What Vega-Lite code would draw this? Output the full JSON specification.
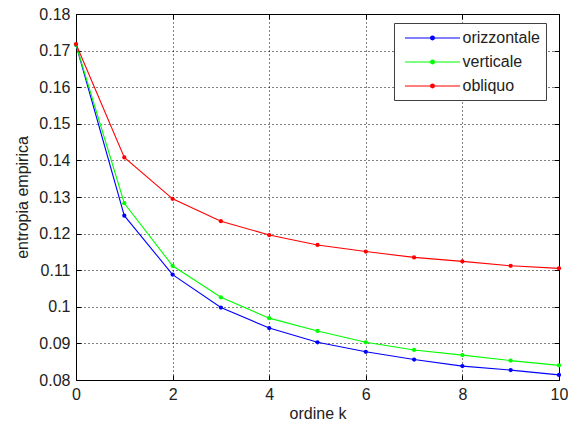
{
  "$schema": "https://vega.github.io/schema/vega-lite/v6.json",
  "width": 483,
  "height": 366,
  "autosize": {"type": "none"},
  "padding": {"left": 76, "top": 14, "right": 9, "bottom": 47},
  "background": "white",
  "data": {
    "values": [
      {"k": 0, "serie": "orizzontale", "h": 0.1716},
      {"k": 1, "serie": "orizzontale", "h": 0.1249},
      {"k": 2, "serie": "orizzontale", "h": 0.1088},
      {"k": 3, "serie": "orizzontale", "h": 0.0998},
      {"k": 4, "serie": "orizzontale", "h": 0.0942},
      {"k": 5, "serie": "orizzontale", "h": 0.0903},
      {"k": 6, "serie": "orizzontale", "h": 0.0877},
      {"k": 7, "serie": "orizzontale", "h": 0.0856},
      {"k": 8, "serie": "orizzontale", "h": 0.0838},
      {"k": 9, "serie": "orizzontale", "h": 0.0827},
      {"k": 10, "serie": "orizzontale", "h": 0.0814},
      {"k": 0, "serie": "verticale", "h": 0.1716},
      {"k": 1, "serie": "verticale", "h": 0.1283},
      {"k": 2, "serie": "verticale", "h": 0.1112},
      {"k": 3, "serie": "verticale", "h": 0.1026},
      {"k": 4, "serie": "verticale", "h": 0.0969},
      {"k": 5, "serie": "verticale", "h": 0.0934},
      {"k": 6, "serie": "verticale", "h": 0.0903},
      {"k": 7, "serie": "verticale", "h": 0.0882},
      {"k": 8, "serie": "verticale", "h": 0.0868},
      {"k": 9, "serie": "verticale", "h": 0.0853},
      {"k": 10, "serie": "verticale", "h": 0.0840},
      {"k": 0, "serie": "obliquo", "h": 0.1718},
      {"k": 1, "serie": "obliquo", "h": 0.1408},
      {"k": 2, "serie": "obliquo", "h": 0.1295},
      {"k": 3, "serie": "obliquo", "h": 0.1234},
      {"k": 4, "serie": "obliquo", "h": 0.1196},
      {"k": 5, "serie": "obliquo", "h": 0.1169},
      {"k": 6, "serie": "obliquo", "h": 0.1151},
      {"k": 7, "serie": "obliquo", "h": 0.1135},
      {"k": 8, "serie": "obliquo", "h": 0.1124},
      {"k": 9, "serie": "obliquo", "h": 0.1112},
      {"k": 10, "serie": "obliquo", "h": 0.1105}
    ]
  },
  "layer": [
    {
      "mark": {"type": "line", "strokeWidth": 1.1, "point": {"filled": true, "size": 18}},
      "encoding": {
        "x": {
          "field": "k", "type": "quantitative",
          "scale": {"domain": [0, 10], "nice": false, "zero": false},
          "axis": {"orient": "bottom", "values": [0, 2, 4, 6, 8, 10], "title": "ordine k", "grid": true, "labelPadding": 11, "titlePadding": 3, "labelFlush": false}
        },
        "y": {
          "field": "h", "type": "quantitative",
          "scale": {"domain": [0.08, 0.18], "nice": false, "zero": false},
          "axis": {"orient": "left", "values": [0.08, 0.09, 0.1, 0.11, 0.12, 0.13, 0.14, 0.15, 0.16, 0.17, 0.18], "format": ".2~f", "title": "entropia empirica", "grid": true, "labelPadding": 11, "titlePadding": 8}
        },
        "color": {
          "field": "serie", "type": "nominal",
          "scale": {"domain": ["orizzontale", "verticale", "obliquo"], "range": ["#0000ff", "#00ff00", "#ff0000"]},
          "legend": {
            "title": null,
            "orient": "none",
            "legendX": 318,
            "legendY": 9,
            "padding": 6,
            "rowPadding": 7,
            "strokeColor": "#404040",
            "fillColor": "white",
            "symbolType": "M-3.44,0L3.44,0M0.24,0A0.24,0.24,0,1,1,-0.24,0A0.24,0.24,0,1,1,0.24,0Z",
            "symbolSize": 256,
            "symbolStrokeWidth": 1.1,
            "symbolOffset": 23.5,
            "labelOffset": 21,
            "labelFont": "Liberation Sans",
            "labelFontSize": 16,
            "labelColor": "#222",
            "encode": {
              "symbols": {"update": {"fill": {"scale": "color", "field": "value"}, "stroke": {"scale": "color", "field": "value"}, "opacity": {"value": 1}}}
            }
          }
        }
      }
    },
    {
      "mark": {"type": "point", "opacity": 0},
      "encoding": {
        "x": {
          "field": "k", "type": "quantitative",
          "axis": {"orient": "top", "values": [0, 2, 4, 6, 8, 10], "labels": false, "title": null, "grid": false}
        },
        "y": {
          "field": "h", "type": "quantitative",
          "axis": {"orient": "right", "values": [0.08, 0.09, 0.1, 0.11, 0.12, 0.13, 0.14, 0.15, 0.16, 0.17, 0.18], "labels": false, "title": null, "grid": false}
        }
      }
    }
  ],
  "config": {
    "view": {"stroke": "black", "strokeWidth": 1},
    "axis": {
      "domainColor": "black",
      "domainWidth": 1,
      "tickColor": "black",
      "tickWidth": 1,
      "tickSize": -5,
      "gridColor": "black",
      "gridDash": [1, 3],
      "gridOpacity": 1,
      "gridWidth": 1,
      "labelFont": "Liberation Sans",
      "labelFontSize": 16,
      "labelColor": "#222",
      "titleFont": "Liberation Sans",
      "titleFontSize": 16,
      "titleFontWeight": "normal",
      "titleColor": "#222"
    }
  }
}
